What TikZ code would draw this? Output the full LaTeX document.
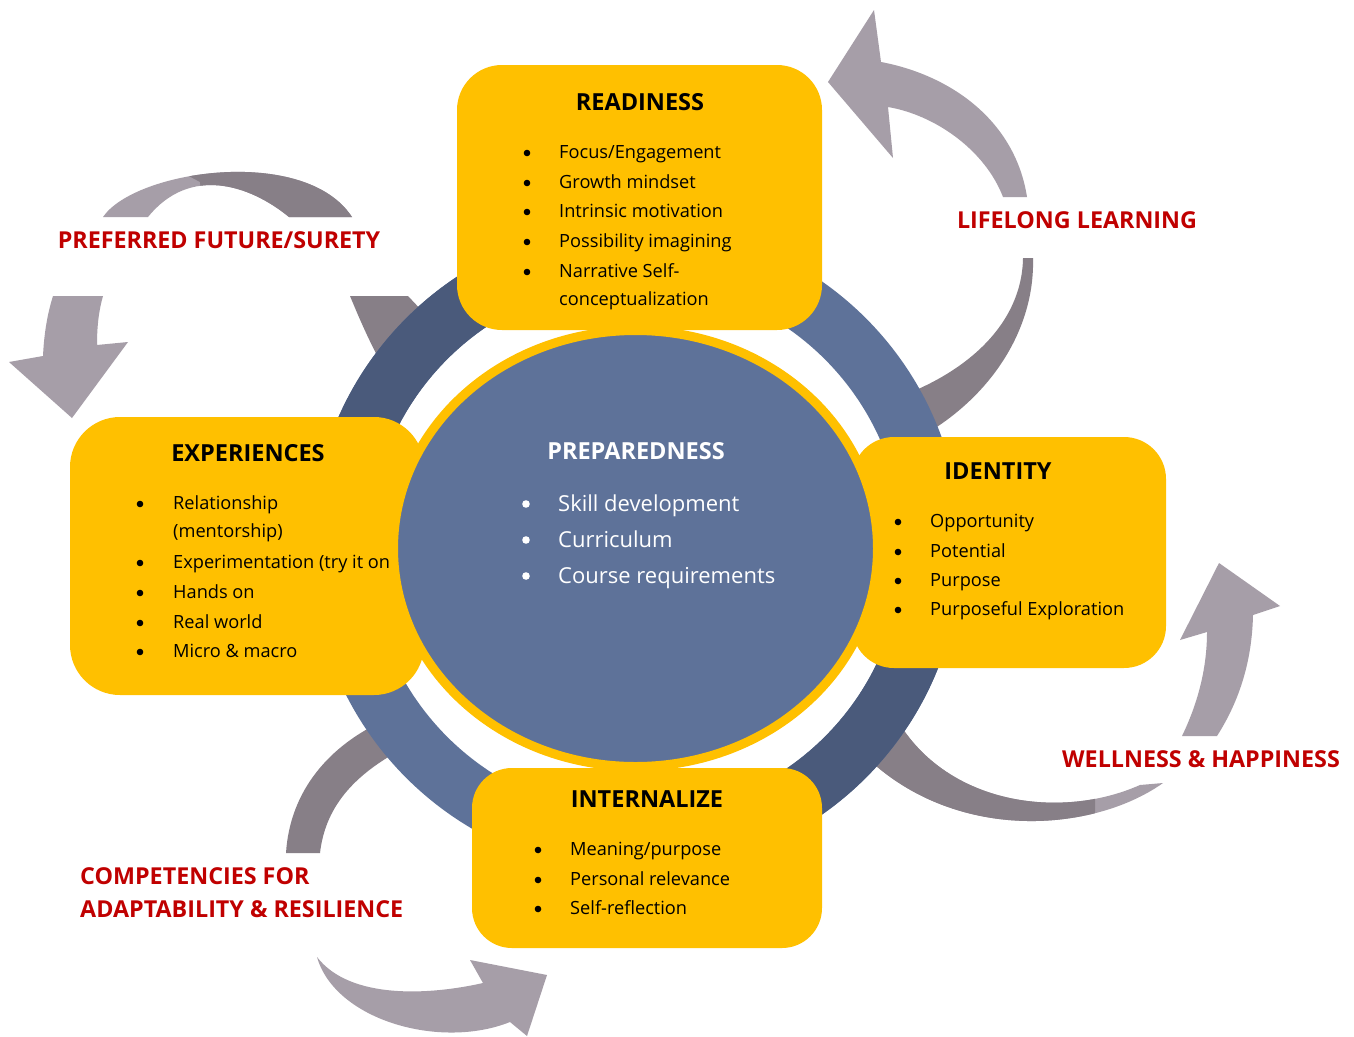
\documentclass[tikz,border=0pt]{standalone}
\usepackage{fontspec}
\setmainfont{Open Sans}
\definecolor{graylight}{HTML}{A69EA8}
\definecolor{graydark}{HTML}{877F87}
\definecolor{ringdark}{HTML}{4A5A7B}
\definecolor{ringlight}{HTML}{5E7299}
\definecolor{boxyellow}{HTML}{FFC000}
\definecolor{labred}{HTML}{C00000}
\tikzset{
  boxfill/.style={fill=boxyellow},
  titletext/.style={font=\fontsize{23.5}{27}\selectfont\bfseries, text=black, inner sep=0pt},
  itemtext/.style={font=\fontsize{18.2}{22}\selectfont, text=black, anchor=base west, inner sep=0pt},
  centretext/.style={font=\fontsize{22}{26}\selectfont, text=white, anchor=base west, inner sep=0pt},
  labtext/.style={font=\fontsize{23.3}{27}\selectfont\bfseries, text=labred, inner sep=0pt},
  bulletdot/.style={fill=black},
}
\begin{document}
\begin{tikzpicture}[x=1pt,y=-1pt]
\useasboundingbox (0,0) rectangle (1354,1036);
\fill[white] (0,0) rectangle (1354,1036);

% ---------- curved grey arrows (behind the ring) ----------
% A: lifelong learning (upper right)
\fill[graylight] (1027,197) .. controls (1015,120) and (950,75) .. (881,62)
  -- (874,10) -- (828,82) -- (893,158) -- (888,107)
  .. controls (935,115) and (985,150) .. (1003,197) -- cycle;
\fill[graydark] (1033,258) .. controls (1035,330) and (990,400) .. (915,440)
  -- (890,400) .. controls (965,375) and (1022,325) .. (1023,258) -- cycle;

% B: preferred future (upper left)
\fill[graylight] (103,217) .. controls (135,170) and (305,145) .. (352,217)
  -- (289,217) .. controls (250,185) and (190,165) .. (148,217) -- cycle;
\begin{scope}
  \clip (180,140) -- (187,175) -- (200,182) -- (205,230) -- (400,230) -- (400,140) -- cycle;
  \fill[graydark] (103,217) .. controls (135,170) and (305,145) .. (352,217)
    -- (289,217) .. controls (250,185) and (190,165) .. (148,217) -- cycle;
\end{scope}
\fill[graylight] (53,296) .. controls (47,315) and (44,335) .. (43,356)
  -- (9,362) -- (72,418) -- (128,342) -- (97,345)
  .. controls (97,325) and (99,310) .. (103,296) -- cycle;
\fill[graydark] (350,296) .. controls (358,315) and (368,340) .. (390,380)
  -- (440,330) -- (408,296) -- cycle;

% C: wellness & happiness (lower right)
\fill[graylight] (1217,736) .. controls (1240,700) and (1252,660) .. (1253,615)
  -- (1280,606) -- (1219,563) -- (1180,640) -- (1207,632)
  .. controls (1207,670) and (1197,705) .. (1182,736) -- cycle;
\fill[graylight] (1163,783) .. controls (1090,835) and (940,845) .. (850,740)
  -- (880,680) .. controls (915,800) and (1050,825) .. (1140,785) -- cycle;
\begin{scope}
  \clip (0,0) rectangle (1095,1036);
  \fill[graydark] (1163,783) .. controls (1090,835) and (940,845) .. (850,740)
    -- (880,680) .. controls (915,800) and (1050,825) .. (1140,785) -- cycle;
\end{scope}

% D: competencies (lower left)
\fill[graydark] (385,720) .. controls (330,745) and (290,790) .. (286,853)
  -- (320,853) .. controls (325,810) and (350,775) .. (410,745) -- cycle;
\fill[graylight] (317,957) .. controls (335,1020) and (440,1050) .. (510,1022)
  -- (527,1036) -- (547,975) -- (470,960) -- (483,983)
  .. controls (430,995) and (350,1000) .. (317,957) -- cycle;

% ---------- ring ----------
\fill[ringlight, even odd rule] (636,548) circle[radius=325] (636,548) circle[radius=267];
\begin{scope}
  \clip (636,548) rectangle (0,0);
  \fill[ringdark, even odd rule] (636,548) circle[radius=325] (636,548) circle[radius=267];
\end{scope}
\begin{scope}
  \clip (636,548) rectangle (1354,1036);
  \fill[ringdark, even odd rule] (636,548) circle[radius=325] (636,548) circle[radius=267];
\end{scope}

% ---------- yellow boxes ----------
\fill[boxfill, rounded corners=45] (457,65) rectangle (822,330);
\fill[boxfill, rounded corners=50] (70,417) rectangle (424,695);
\fill[boxfill, rounded corners=42] (852,437) rectangle (1166,668);
\fill[boxfill, rounded corners=40] (472,768) rectangle (822,948);

% READINESS
\node[titletext] (rdt) at (640,102) {READINESS};
\foreach \yy/\nm/\tx in {152/rd1/{Focus/Engagement}, 182/rd2/{Growth mindset}, 211/rd3/{Intrinsic motivation}, 241/rd4/{Possibility imagining}, 271/rd5/{Narrative Self-}}{
  \fill[bulletdot] (527,\yy+1) circle[radius=3.3];
  \node[itemtext] (\nm) at (559,\yy+6.5) {\tx};
}
\node[itemtext] (rd6) at (559,299+6.5) {conceptualization};

% EXPERIENCES
\node[titletext] (ext) at (248,453) {EXPERIENCES};
\foreach \yy/\nm/\tx in {503/ex1/{Relationship}, 562/ex3/{Experimentation (try it on}, 592/ex4/{Hands on}, 622/ex5/{Real world}, 651/ex6/{Micro \& macro}}{
  \fill[bulletdot] (140,\yy+1) circle[radius=3.3];
  \node[itemtext] (\nm) at (173,\yy+6.5) {\tx};
}
\node[itemtext] (ex2) at (173,531+6.5) {(mentorship)};

% IDENTITY
\node[titletext] (idt) at (998,471) {IDENTITY};
\foreach \yy/\nm/\tx in {521/id1/{Opportunity}, 551/id2/{Potential}, 580/id3/{Purpose}, 609/id4/{Purposeful Exploration}}{
  \fill[bulletdot] (898,\yy+1) circle[radius=3.3];
  \node[itemtext] (\nm) at (930,\yy+6.5) {\tx};
}

% INTERNALIZE
\node[titletext] (int) at (647,799) {INTERNALIZE};
\foreach \yy/\nm/\tx in {849/in1/{Meaning/purpose}, 879/in2/{Personal relevance}, 908/in3/{Self-reflection}}{
  \fill[bulletdot] (538,\yy+1) circle[radius=3.3];
  \node[itemtext] (\nm) at (570,\yy+6.5) {\tx};
}

% ---------- central ellipse ----------
\draw[boxyellow, line width=9, fill=ringlight] (635.5,548.5) ellipse[x radius=242, y radius=218];
\node[titletext, text=white] (prt) at (636,451) {PREPAREDNESS};
\foreach \yy/\nm/\tx in {503/pr1/{Skill development}, 539/pr2/{Curriculum}, 575/pr3/{Course requirements}}{
  \fill[white] (526,\yy+1) circle[radius=3.8];
  \node[centretext] (\nm) at (558,\yy+8) {\tx};
}

% ---------- red labels ----------
\node[labtext] (lpf) at (219,240) {PREFERRED FUTURE/SURETY};
\node[labtext] (lll) at (1077,220) {LIFELONG LEARNING};
\node[labtext] (lwh) at (1201,759) {WELLNESS \& HAPPINESS};
\node[labtext, anchor=base west] (lc1) at (80,884) {COMPETENCIES FOR};
\node[labtext, anchor=base west] (lc2) at (80,917) {ADAPTABILITY \& RESILIENCE};
\end{tikzpicture}
\end{document}
